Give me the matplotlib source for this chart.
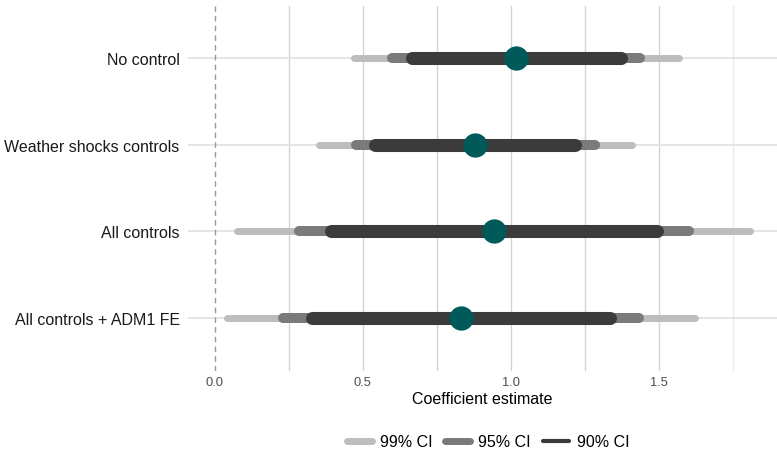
import matplotlib.pyplot as plt
from matplotlib.lines import Line2D

plt.rcParams['font.family'] = ['Liberation Sans', 'DejaVu Sans']

models = ['No control', 'Weather shocks controls', 'All controls', 'All controls + ADM1 FE']
estimate = [1.017, 0.881, 0.943, 0.833]

ci90_lo = [0.666, 0.541, 0.392, 0.329]
ci90_hi = [1.372, 1.219, 1.494, 1.336]
ci95_lo = [0.599, 0.477, 0.285, 0.231]
ci95_hi = [1.437, 1.285, 1.602, 1.434]
ci99_lo = [0.470, 0.351, 0.077, 0.043]
ci99_hi = [1.569, 1.411, 1.809, 1.622]

c99, c95, c90 = '#bdbdbd', '#7a7a7a', '#3b3b3b'
teal = '#005a5a'

fig = plt.figure(figsize=(7.77, 4.52), dpi=100)
ax = fig.add_axes([188 / 777, 1 - 371.5 / 452, 589 / 777, 365 / 452])

ypos = list(range(len(models)))

# grid
for x in [0.25, 0.5, 0.75, 1.0, 1.25, 1.5]:
    ax.axvline(x, color='#d4d4d4', lw=1.0, zorder=0)
ax.axvline(1.75, color='#ebebeb', lw=1.0, zorder=0)
for y in ypos:
    ax.axhline(y, color='#e3e3e3', lw=1.3, zorder=0)

ax.axvline(0, color='#999999', lw=1.0, ls=(0, (4, 3)), zorder=1)

ax.hlines(ypos, ci99_lo, ci99_hi, color=c99, lw=5.0, capstyle='round', zorder=2)
ax.hlines(ypos, ci95_lo, ci95_hi, color=c95, lw=7.2, capstyle='round', zorder=3)
ax.hlines(ypos, ci90_lo, ci90_hi, color=c90, lw=9.4, capstyle='round', zorder=4)
ax.plot(estimate, ypos, 'o', color=teal, ms=17.5, mec='none', zorder=5)

ax.set_xlim(-0.09, 1.90)
ax.set_ylim(3.6, -0.6)
ax.set_yticks(ypos)
ax.set_yticklabels(models, fontsize=11.5, color='#1a1a1a')
ax.set_xticks([0, 0.5, 1.0, 1.5])
ax.set_xticklabels(['0.0', '0.5', '1.0', '1.5'], fontsize=9.3, color='#4d4d4d')
ax.tick_params(length=0, pad=6)
ax.tick_params(axis='x', pad=4)
ax.set_xlabel('Coefficient estimate', fontsize=11.5, color='black', labelpad=2)
for s in ax.spines.values():
    s.set_visible(False)

handles = [Line2D([], [], color=c99, lw=5.0, solid_capstyle='round'),
           Line2D([], [], color=c95, lw=5.0, solid_capstyle='round'),
           Line2D([], [], color=c90, lw=3.0, solid_capstyle='round')]
fig.legend(handles, ['99% CI', '95% CI', '90% CI'], loc='center',
           bbox_to_anchor=(488 / 777, 1 - 443 / 452), ncol=3, frameon=False,
           fontsize=11.5, handlelength=1.6, handletextpad=0.5, columnspacing=0.75)

fig.savefig('out.png', dpi=100)
